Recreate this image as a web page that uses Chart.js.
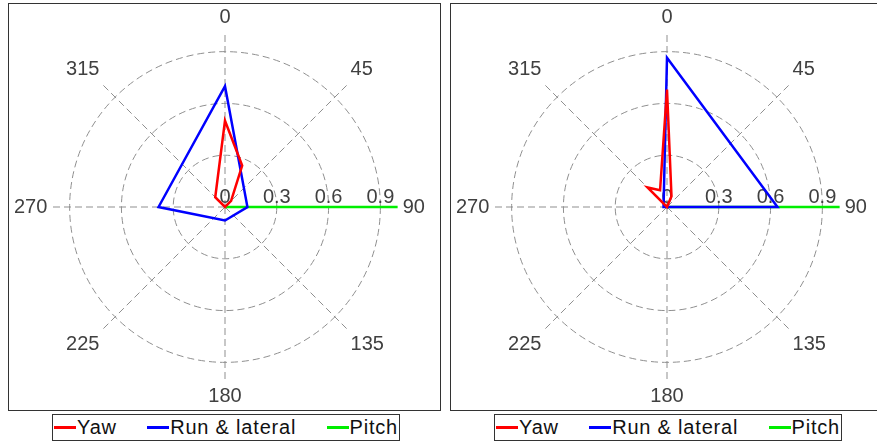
<!DOCTYPE html>
<html>
<head>
<meta charset="utf-8">
<script src="https://cdn.jsdelivr.net/npm/chart.js@4"></script>
<style>
  body { margin: 0; width: 877px; height: 443px; overflow: hidden; background: #fff; position: relative;
         font-family: 'Liberation Sans', Arial, sans-serif; }
  .panel { position: absolute; top: 3px; width: 431px; height: 406px; border: 1px solid #333; }
  .panel canvas { display: block; }
  .legend { position: absolute; top: 414px; height: 25px; width: 344px; border: 1px solid #333; padding: 0 1px;
            display: flex; align-items: center; justify-content: space-between; font-size: 20px; color: #111; letter-spacing: 0.8px; }
  .item { display: flex; align-items: center; }
  .sw { width: 22px; height: 3px; margin-right: 1px; }
</style>
</head>
<body>
<div class="panel" style="left:8px"><canvas id="left" width="431" height="406"></canvas></div>
<div class="legend" id="legLeft" style="left:52px"></div>
<div class="panel" style="left:450px"><canvas id="right" width="431" height="406"></canvas></div>
<div class="legend" id="legRight" style="left:494px"></div>

<script>
// directions in degrees, 22.5 deg apart; only multiples of 45 get a label
const directions = [0, 22.5, 45, 67.5, 90, 112.5, 135, 157.5, 180, 202.5, 225, 247.5, 270, 292.5, 315, 337.5];
const shownDirections = [0, 45, 90, 135, 180, 225, 270, 315];
const radialTicks = [0, 0.3, 0.6, 0.9];
const seriesNames = ['Yaw', 'Run & lateral', 'Pitch'];
const seriesColors = ['#ff0000', '#0000ff', '#00ee00'];

// left plot (null = no sample in that direction)
const yawLeft   = [0.50, 0.26, 0.05, null, 0, null, 0, null, 0, null, 0, null, 0, null, 0.08, null];
const runLeft   = [0.70, null, null, null, 0.13, null, null, null, 0.078, null, null, null, 0.385, null, null, null];
const pitchLeft = [0, null, null, null, 1.0, null, null, null, 0, null, null, null, null, null, null, null];

// right plot
const yawRight   = [0.68, 0.068, 0, null, 0, null, 0, null, 0, null, 0, null, 0, null, 0.16, 0.105];
const runRight   = [0.865, null, null, null, 0.64, null, null, null, 0, null, null, null, 0.02, null, null, null];
const pitchRight = [0, null, null, null, 1.0, null, null, null, 0, null, null, null, null, null, null, null];

const FONT = "'Liberation Sans', Arial, sans-serif";

// tick values drawn along the 90 degree spoke, upright
const tickLabelPlugin = {
  id: 'tickLabels',
  beforeDatasetsDraw(chart) {
    const s = chart.scales.r;
    const ctx = chart.ctx;
    ctx.save();
    ctx.font = '20px ' + FONT;
    ctx.fillStyle = '#404040';
    ctx.textAlign = 'center';
    ctx.textBaseline = 'bottom';
    radialTicks.forEach(v => {
      const x = s.xCenter + s.getDistanceFromCenterForValue(v);
      ctx.fillText(String(v), x, s.yCenter);
    });
    ctx.restore();
  }
};

function makeChart(id, legendId, yaw, run, pitch) {
  const sets = [yaw, run, pitch].map((d, i) => ({
    label: seriesNames[i],
    data: d,
    borderColor: seriesColors[i],
    backgroundColor: 'transparent',
    borderWidth: 2.5,
    pointRadius: 0,
    fill: false,
    spanGaps: true
  }));
  const chart = new Chart(document.getElementById(id), {
    type: 'radar',
    data: { labels: directions, datasets: sets },
    options: {
      responsive: false,
      animation: false,
      layout: { padding: { right: 9 } },
      plugins: { legend: { display: false }, tooltip: { enabled: false } },
      scales: {
        r: {
          min: 0,
          max: 1,
          ticks: { display: false, stepSize: 0.3 },
          grid: {
            circular: true,
            color: c => (c.tick && c.tick.value > 0.95) ? 'transparent' : '#8f8f8f',
            lineWidth: 1
          },
          border: { dash: [7, 4] },
          angleLines: {
            color: '#8f8f8f',
            lineWidth: c => (directions[c.index] % 45 === 0 ? 1 : 0),
            borderDash: [7, 4]
          },
          pointLabels: {
            font: { size: 20, family: FONT },
            color: '#404040',
            padding: 5,
            callback: lbl => (shownDirections.includes(lbl) ? String(lbl) : '')
          }
        }
      }
    },
    plugins: [tickLabelPlugin]
  });

  // HTML legend built from the chart's datasets
  const leg = document.getElementById(legendId);
  chart.data.datasets.forEach(ds => {
    const it = document.createElement('div');
    it.className = 'item';
    it.innerHTML = '<span class="sw" style="background:' + ds.borderColor + '"></span><span>' + ds.label + '</span>';
    leg.appendChild(it);
  });
  return chart;
}

makeChart('left', 'legLeft', yawLeft, runLeft, pitchLeft);
makeChart('right', 'legRight', yawRight, runRight, pitchRight);
</script>
</body>
</html>
